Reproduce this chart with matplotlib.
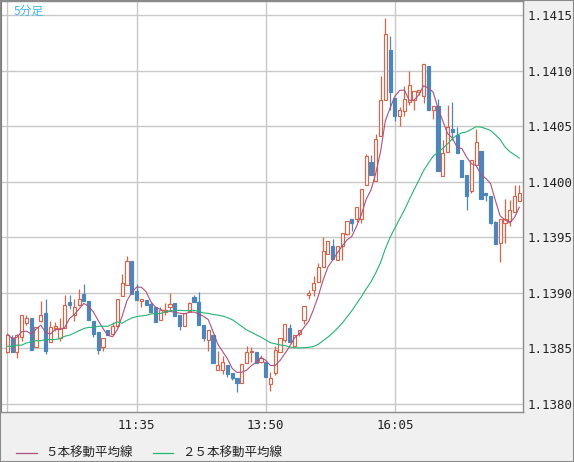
import numpy as np
import pandas as pd
import matplotlib
matplotlib.use('Agg')
import matplotlib.pyplot as plt
from matplotlib.lines import Line2D
from matplotlib.patches import Rectangle

# 5分足 OHLC (読み取り値)
opens = [1.13847, 1.13859, 1.13847, 1.13860, 1.13873, 1.13877, 1.13851, 1.13875, 1.13882, 1.13856,
         1.13868, 1.13859, 1.13868, 1.13892, 1.13880, 1.13889, 1.13899, 1.13893, 1.13875, 1.13865,
         1.13851, 1.13867, 1.13863, 1.13870, 1.13897, 1.13907, 1.13929, 1.13902, 1.13893, 1.13894,
         1.13890, 1.13887, 1.13876, 1.13883, 1.13887, 1.13891, 1.13880, 1.13870, 1.13884, 1.13896,
         1.13892, 1.13871, 1.13858, 1.13862, 1.13831, 1.13831, 1.13835, 1.13828, 1.13823, 1.13819,
         1.13837, 1.13847, 1.13847, 1.13838, 1.13838, 1.13818, 1.13828, 1.13847, 1.13858, 1.13868,
         1.13852, 1.13863, 1.13876, 1.13898, 1.13903, 1.13910, 1.13923, 1.13935, 1.13942, 1.13930,
         1.13942, 1.13953, 1.13967, 1.13967, 1.13967, 1.13997, 1.14018, 1.14001, 1.14041, 1.14074,
         1.14119, 1.14076, 1.14059, 1.14064, 1.14072, 1.14074, 1.14081, 1.14077, 1.14104, 1.14065,
         1.14068, 1.14005, 1.14027, 1.14048, 1.14042, 1.14020, 1.14006, 1.13992, 1.14015, 1.14028,
         1.13990, 1.13987, 1.13964, 1.13945, 1.13963, 1.13965, 1.13973, 1.13983]
highs = [1.13863, 1.13862, 1.13863, 1.13880, 1.13880, 1.13877, 1.13869, 1.13893, 1.13895, 1.13875,
         1.13874, 1.13877, 1.13898, 1.13898, 1.13895, 1.13904, 1.13908, 1.13893, 1.13875, 1.13865,
         1.13859, 1.13867, 1.13874, 1.13895, 1.13917, 1.13933, 1.13929, 1.13908, 1.13895, 1.13894,
         1.13892, 1.13887, 1.13887, 1.13891, 1.13900, 1.13891, 1.13880, 1.13882, 1.13892, 1.13898,
         1.13901, 1.13871, 1.13867, 1.13862, 1.13848, 1.13843, 1.13835, 1.13828, 1.13823, 1.13836,
         1.13852, 1.13851, 1.13847, 1.13844, 1.13838, 1.13829, 1.13852, 1.13859, 1.13872, 1.13872,
         1.13862, 1.13867, 1.13888, 1.13903, 1.13915, 1.13927, 1.13950, 1.13947, 1.13949, 1.13942,
         1.13954, 1.13965, 1.13967, 1.13977, 1.13994, 1.14025, 1.14024, 1.14043, 1.14095, 1.14148,
         1.14131, 1.14076, 1.14067, 1.14086, 1.14100, 1.14082, 1.14083, 1.14106, 1.14104, 1.14068,
         1.14075, 1.14038, 1.14069, 1.14072, 1.14049, 1.14020, 1.14006, 1.14020, 1.14048, 1.14028,
         1.13990, 1.13987, 1.13965, 1.13967, 1.13985, 1.13984, 1.13997, 1.13997]
lows = [1.13846, 1.13847, 1.13841, 1.13857, 1.13871, 1.13849, 1.13851, 1.13874, 1.13845, 1.13856,
        1.13866, 1.13857, 1.13868, 1.13886, 1.13875, 1.13888, 1.13893, 1.13876, 1.13860, 1.13845,
        1.13848, 1.13862, 1.13862, 1.13869, 1.13897, 1.13907, 1.13899, 1.13894, 1.13887, 1.13889,
        1.13883, 1.13874, 1.13876, 1.13880, 1.13884, 1.13879, 1.13867, 1.13870, 1.13884, 1.13892,
        1.13871, 1.13857, 1.13848, 1.13837, 1.13831, 1.13827, 1.13824, 1.13822, 1.13811, 1.13819,
        1.13837, 1.13838, 1.13837, 1.13837, 1.13824, 1.13812, 1.13826, 1.13847, 1.13856, 1.13856,
        1.13852, 1.13861, 1.13872, 1.13895, 1.13897, 1.13910, 1.13923, 1.13935, 1.13931, 1.13930,
        1.13930, 1.13952, 1.13956, 1.13964, 1.13963, 1.13997, 1.14006, 1.14001, 1.14041, 1.14074,
        1.14065, 1.14055, 1.14050, 1.14059, 1.14069, 1.14065, 1.14078, 1.14071, 1.14065, 1.14057,
        1.14010, 1.14005, 1.14027, 1.14038, 1.14026, 1.14004, 1.13975, 1.13990, 1.14015, 1.13985,
        1.13983, 1.13962, 1.13944, 1.13928, 1.13945, 1.13960, 1.13973, 1.13983]
closes = [1.13862, 1.13847, 1.13862, 1.13880, 1.13877, 1.13849, 1.13869, 1.13880, 1.13848, 1.13869,
          1.13870, 1.13868, 1.13889, 1.13889, 1.13887, 1.13895, 1.13893, 1.13876, 1.13863, 1.13849,
          1.13859, 1.13862, 1.13870, 1.13895, 1.13909, 1.13929, 1.13899, 1.13894, 1.13895, 1.13889,
          1.13883, 1.13874, 1.13885, 1.13885, 1.13890, 1.13879, 1.13870, 1.13882, 1.13891, 1.13892,
          1.13871, 1.13859, 1.13867, 1.13837, 1.13835, 1.13838, 1.13827, 1.13823, 1.13819, 1.13836,
          1.13847, 1.13848, 1.13837, 1.13841, 1.13824, 1.13823, 1.13849, 1.13859, 1.13872, 1.13856,
          1.13862, 1.13867, 1.13888, 1.13900, 1.13909, 1.13923, 1.13938, 1.13947, 1.13931, 1.13942,
          1.13954, 1.13965, 1.13963, 1.13977, 1.13994, 1.14023, 1.14006, 1.14039, 1.14074, 1.14133,
          1.14081, 1.14059, 1.14065, 1.14075, 1.14087, 1.14082, 1.14083, 1.14106, 1.14065, 1.14068,
          1.14010, 1.14026, 1.14049, 1.14045, 1.14026, 1.14004, 1.13987, 1.14020, 1.14036, 1.13985,
          1.13988, 1.13963, 1.13944, 1.13967, 1.13967, 1.13975, 1.13987, 1.13990]

# 画面外の過去足が必要な先頭部分の移動平均 (チャートから読み取り)
ma5_first = [1.13863, 1.13859, 1.13860, 1.13865]
ma25_first = [1.13852, 1.13852, 1.13853, 1.13853, 1.13855, 1.13856, 1.13857, 1.13857,
              1.13858, 1.13858, 1.13858, 1.13859, 1.13861, 1.13862, 1.13864, 1.13866,
              1.13868, 1.13869, 1.13869, 1.13870, 1.13870, 1.13870, 1.13872, 1.13874]

start_time = '09:20'
tick_labels = ['11:35', '13:50', '16:05']
legend_labels = ['５本移動平均線', '２５本移動平均線']

up_col = '#dc6446'
down_col = '#4a87c0'
ma5_col = '#b0507e'
ma25_col = '#22b573'
grid_col = '#c8c8c8'

df = pd.DataFrame({'open': opens, 'high': highs, 'low': lows, 'close': closes})
df['time'] = pd.date_range('2021-01-04 ' + start_time, periods=len(df), freq='5min').strftime('%H:%M')
df['ma5'] = df['close'].rolling(5).mean()
df['ma25'] = df['close'].rolling(25).mean()
df.loc[:3, 'ma5'] = ma5_first
df.loc[:23, 'ma25'] = ma25_first

plt.rcParams['font.family'] = ['Noto Sans CJK JP', 'DejaVu Sans']

W, H = 574, 462
fig = plt.figure(figsize=(W / 100, H / 100), dpi=100, facecolor='#f0f0f0')
ax = fig.add_axes([1 / W, 50 / H, 522 / W, 411 / H])
ax.set_facecolor('white')

x = np.arange(len(df))
up = df['close'] >= df['open']
cols = np.where(up, up_col, down_col)

# ヒゲ
ax.vlines(x, df['low'], df['high'], colors=cols, lw=0.9, zorder=2)
# 実体
bottom = np.minimum(df['open'], df['close'])
height = np.abs(df['close'] - df['open'])
ax.bar(x, height, bottom=bottom, width=0.66, color=np.where(up, 'white', down_col),
       edgecolor=cols, linewidth=0.85, zorder=3)

ax.plot(x, df['ma5'], color=ma5_col, lw=0.8, zorder=4)
ax.plot(x, df['ma25'], color=ma25_col, lw=0.8, zorder=4)

ax.set_xlim(-1.32, len(df) - 1 + 0.77)
ax.set_ylim(1.137928, 1.141629)

yt = np.arange(1.1380, 1.14151, 0.0005)
ax.set_yticks(yt)
ax.set_yticklabels([f'{v:.4f}' for v in yt], family='DejaVu Sans Mono', fontsize=9)
ax.yaxis.tick_right()

xt = [0] + [int(np.where(df['time'] == t)[0][0]) for t in tick_labels]
ax.set_xticks(xt)
ax.set_xticklabels([''] + tick_labels, family='DejaVu Sans Mono', fontsize=9)
ax.tick_params(length=0, pad=5, colors='#222222')
ax.tick_params(axis='y', pad=3)

ax.grid(True, color=grid_col, lw=1, zorder=0)
ax.set_axisbelow(True)
for s in ax.spines.values():
    s.set_color('#8a8a8a')
    s.set_linewidth(1)
ax.spines['left'].set_linewidth(1.5)
ax.spines['left'].set_color('#7a7a7a')

ax.text(13 / 522, 1 - 10 / 411, '5分足', transform=ax.transAxes, color='#3cb8f0',
        fontsize=8.5, va='center', ha='left')

# 凡例
ly = 1 - 453 / H
for (x0, x1, tx), lab, c in zip([(16, 37, 45), (153, 173, 182)], legend_labels, [ma5_col, ma25_col]):
    fig.add_artist(Line2D([x0 / W, x1 / W], [ly, ly], color=c, lw=0.9))
    fig.text(tx / W, ly, lab, fontsize=9, va='center', ha='left', color='#222222')

fig.add_artist(Rectangle((0, 0), 1, 1, transform=fig.transFigure, fill=False,
                         edgecolor='#8a8a8a', lw=1.5))

fig.savefig('out.png', dpi=100, facecolor=fig.get_facecolor())
